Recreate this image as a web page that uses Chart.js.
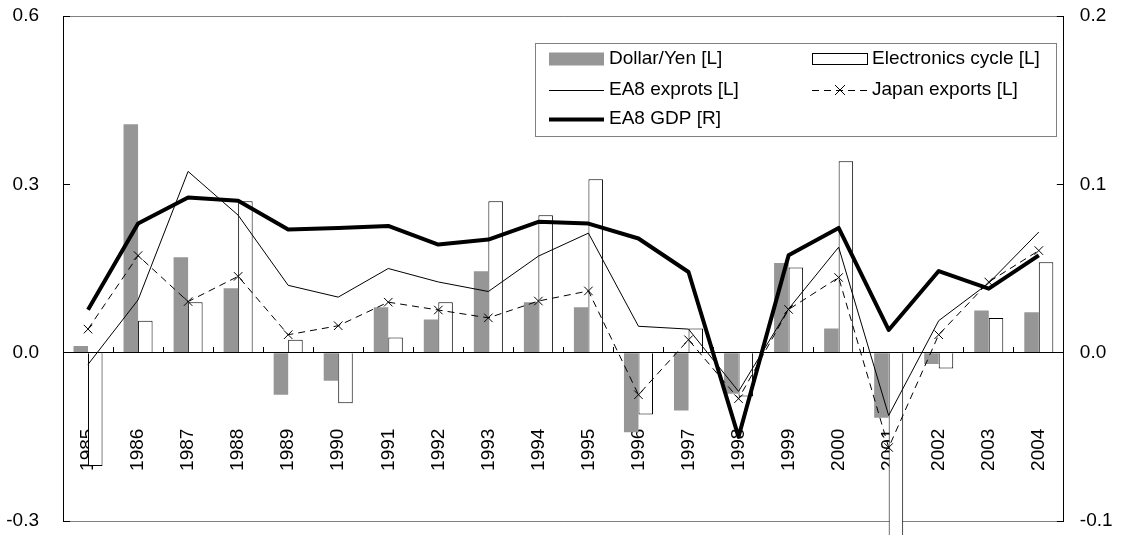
<!DOCTYPE html>
<html>
<head>
<meta charset="utf-8">
<script src="https://cdn.jsdelivr.net/npm/chart.js@4.4.0/dist/chart.umd.min.js"></script>
<style>
  html, body { margin: 0; padding: 0; background: #fff; }
  #wrap { width: 1145px; height: 535px; }
</style>
</head>
<body>
<div id="wrap"><canvas id="chart" width="1145" height="535"></canvas></div>
<script>
// categories
const years = ["1985", "1986", "1987", "1988", "1989", "1990", "1991", "1992", "1993", "1994",
               "1995", "1996", "1997", "1998", "1999", "2000", "2001", "2002", "2003", "2004"];

// left axis series
const dollarYen = [0.012, 0.407, 0.170, 0.115, -0.075, -0.050, 0.081, 0.059, 0.145, 0.090,
                   0.081, -0.142, -0.103, -0.073, 0.160, 0.043, -0.116, -0.020, 0.075, 0.072];
const electronicsCycle = [-0.202, 0.057, 0.090, 0.270, 0.023, -0.090, 0.027, 0.090, 0.270, 0.245,
                          0.309, -0.110, 0.043, -0.078, 0.152, 0.341, -0.400, -0.028, 0.062, 0.161];
const ea8Exports = [-0.021, 0.094, 0.323, 0.245, 0.120, 0.099, 0.150, 0.126, 0.109, 0.172,
                    0.213, 0.047, 0.042, -0.069, 0.078, 0.188, -0.112, 0.057, 0.124, 0.215];
const japanExports = [0.042, 0.173, 0.091, 0.136, 0.032, 0.048, 0.090, 0.076, 0.062, 0.092,
                      0.110, -0.075, 0.023, -0.082, 0.077, 0.134, -0.169, 0.032, 0.126, 0.182];

// right axis series
const ea8Gdp = [0.0255, 0.0767, 0.0922, 0.0902, 0.0732, 0.0741, 0.0753, 0.0642, 0.0672, 0.0777,
                0.0767, 0.0678, 0.0479, -0.0500, 0.0578, 0.0741, 0.0135, 0.0485, 0.0380, 0.0578];

// axis ticks
const leftTicks = [-0.3, 0.0, 0.3, 0.6];
const rightTicks = [-0.1, 0.0, 0.1, 0.2];

Chart.defaults.font.family = "'Liberation Sans', Arial, sans-serif";
Chart.defaults.font.size = 19;
Chart.defaults.color = "#000";

function fmt(v) {
  return (Math.abs(v) < 1e-9 ? 0 : v).toFixed(1);
}

// legend in a box, two columns, drawn over the plot
const boxLegend = {
  id: "boxLegend",
  afterDatasetsDraw(chart) {
    const ctx = chart.ctx;
    const ds = chart.data.datasets;
    ctx.save();
    ctx.fillStyle = "#fff";
    ctx.fillRect(535, 43, 522, 94);
    ctx.strokeStyle = "#808080";
    ctx.lineWidth = 1;
    ctx.strokeRect(535.5, 43.5, 521, 93);

    const cols = [549, 812];
    const rows = [59, 90, 119];
    ctx.font = "19px 'Liberation Sans', Arial, sans-serif";
    ctx.textBaseline = "middle";
    ds.forEach((d, i) => {
      const x = cols[i % 2];
      const y = rows[Math.floor(i / 2)];
      if (d.type === "bar") {
        if (d.borderWidth) {
          ctx.fillStyle = d.backgroundColor;
          ctx.fillRect(x, y - 6, 56, 12);
          ctx.strokeStyle = d.borderColor;
          ctx.lineWidth = 1;
          ctx.strokeRect(x + 0.5, y - 5.5, 55, 11);
        } else {
          ctx.fillStyle = d.backgroundColor;
          ctx.fillRect(x, y - 6.5, 55, 13);
        }
      } else {
        ctx.strokeStyle = d.borderColor;
        ctx.lineWidth = d.borderWidth;
        ctx.setLineDash(d.borderDash || []);
        ctx.beginPath();
        ctx.moveTo(x, y + 0.5);
        ctx.lineTo(x + 55, y + 0.5);
        ctx.stroke();
        ctx.setLineDash([]);
        if (d.pointRadius) {
          const cx = x + 28, r = 5;
          ctx.lineWidth = 1;
          ctx.beginPath();
          ctx.moveTo(cx - r, y - r); ctx.lineTo(cx + r, y + r);
          ctx.moveTo(cx - r, y + r); ctx.lineTo(cx + r, y - r);
          ctx.stroke();
        }
      }
      ctx.fillStyle = "#000";
      ctx.fillText(d.label, x + 60, y);
    });
    ctx.restore();
  }
};

// fixed plot frame: no extra room for tick label overhang
function fixLeft(s) { s.width = 63; s.paddingTop = 0; s.paddingBottom = 0; }
function fixRight(s) { s.width = 56; s.paddingTop = 0; s.paddingBottom = 0; }

const ctx = document.getElementById("chart").getContext("2d");
new Chart(ctx, {
  type: "bar",
  data: {
    labels: years,
    datasets: [
      {
        type: "bar",
        label: "Dollar/Yen [L]",
        data: dollarYen,
        backgroundColor: "#969696",
        borderWidth: 0,
        yAxisID: "y",
        order: 1,
        categoryPercentage: 0.58,
        barPercentage: 1.0
      },
      {
        type: "bar",
        label: "Electronics cycle [L]",
        data: electronicsCycle,
        backgroundColor: "#ffffff",
        borderColor: "#000",
        borderWidth: 1,
        yAxisID: "y",
        order: 1,
        clip: false,
        categoryPercentage: 0.58,
        barPercentage: 1.0
      },
      {
        type: "line",
        label: "EA8 exprots [L]",
        data: ea8Exports,
        borderColor: "#000",
        borderWidth: 1,
        pointRadius: 0,
        tension: 0,
        yAxisID: "y",
        order: 0
      },
      {
        type: "line",
        label: "Japan exports [L]",
        data: japanExports,
        borderColor: "#000",
        borderWidth: 1,
        borderDash: [7, 5],
        pointStyle: "crossRot",
        pointRadius: 6,
        pointBorderColor: "#000",
        pointBorderWidth: 1,
        tension: 0,
        yAxisID: "y",
        order: 0
      },
      {
        type: "line",
        label: "EA8 GDP [R]",
        data: ea8Gdp,
        borderColor: "#000",
        borderWidth: 4,
        borderJoinStyle: "round",
        pointRadius: 0,
        tension: 0,
        yAxisID: "y1",
        order: 0
      }
    ]
  },
  options: {
    responsive: false,
    animation: false,
    devicePixelRatio: 1,
    events: [],
    layout: { padding: { top: 16, bottom: 14, left: 0, right: 0 } },
    plugins: {
      legend: { display: false },
      tooltip: { enabled: false }
    },
    scales: {
      x: {
        type: "category",
        position: { y: 0 },
        offset: true,
        grid: {
          display: true,
          drawOnChartArea: false,
          drawTicks: true,
          tickLength: -6,
          color: "#000",
          offset: true
        },
        border: { display: true, color: "#000", width: 1, z: 1 },
        ticks: {
          minRotation: 90,
          maxRotation: 90,
          autoSkip: false,
          padding: 82,
          color: "#000",
          font: { size: 19 }
        }
      },
      y: {
        position: "left",
        min: leftTicks[0],
        max: leftTicks[leftTicks.length - 1],
        afterBuildTicks: s => { s.ticks = leftTicks.map(v => ({ value: v })); },
        afterFit: fixLeft,
        ticks: { padding: 31, color: "#000", callback: fmt, font: { size: 19 } },
        grid: {
          color: c => (c.tick && (Math.abs(c.tick.value - 0.6) < 1e-6 || Math.abs(c.tick.value + 0.3) < 1e-6)) ? "#808080" : "rgba(0,0,0,0)",
          tickColor: "#000",
          tickLength: -7,
          drawTicks: true
        },
        border: { color: "#000", width: 1 }
      },
      y1: {
        position: "right",
        min: rightTicks[0],
        max: rightTicks[rightTicks.length - 1],
        afterBuildTicks: s => { s.ticks = rightTicks.map(v => ({ value: v })); },
        afterFit: fixRight,
        ticks: { padding: 23, color: "#000", callback: fmt, font: { size: 19 } },
        grid: {
          drawOnChartArea: false,
          tickColor: "#000",
          tickLength: -7,
          drawTicks: true
        },
        border: { color: "#000", width: 1 }
      }
    }
  },
  plugins: [boxLegend]
});
</script>
</body>
</html>
